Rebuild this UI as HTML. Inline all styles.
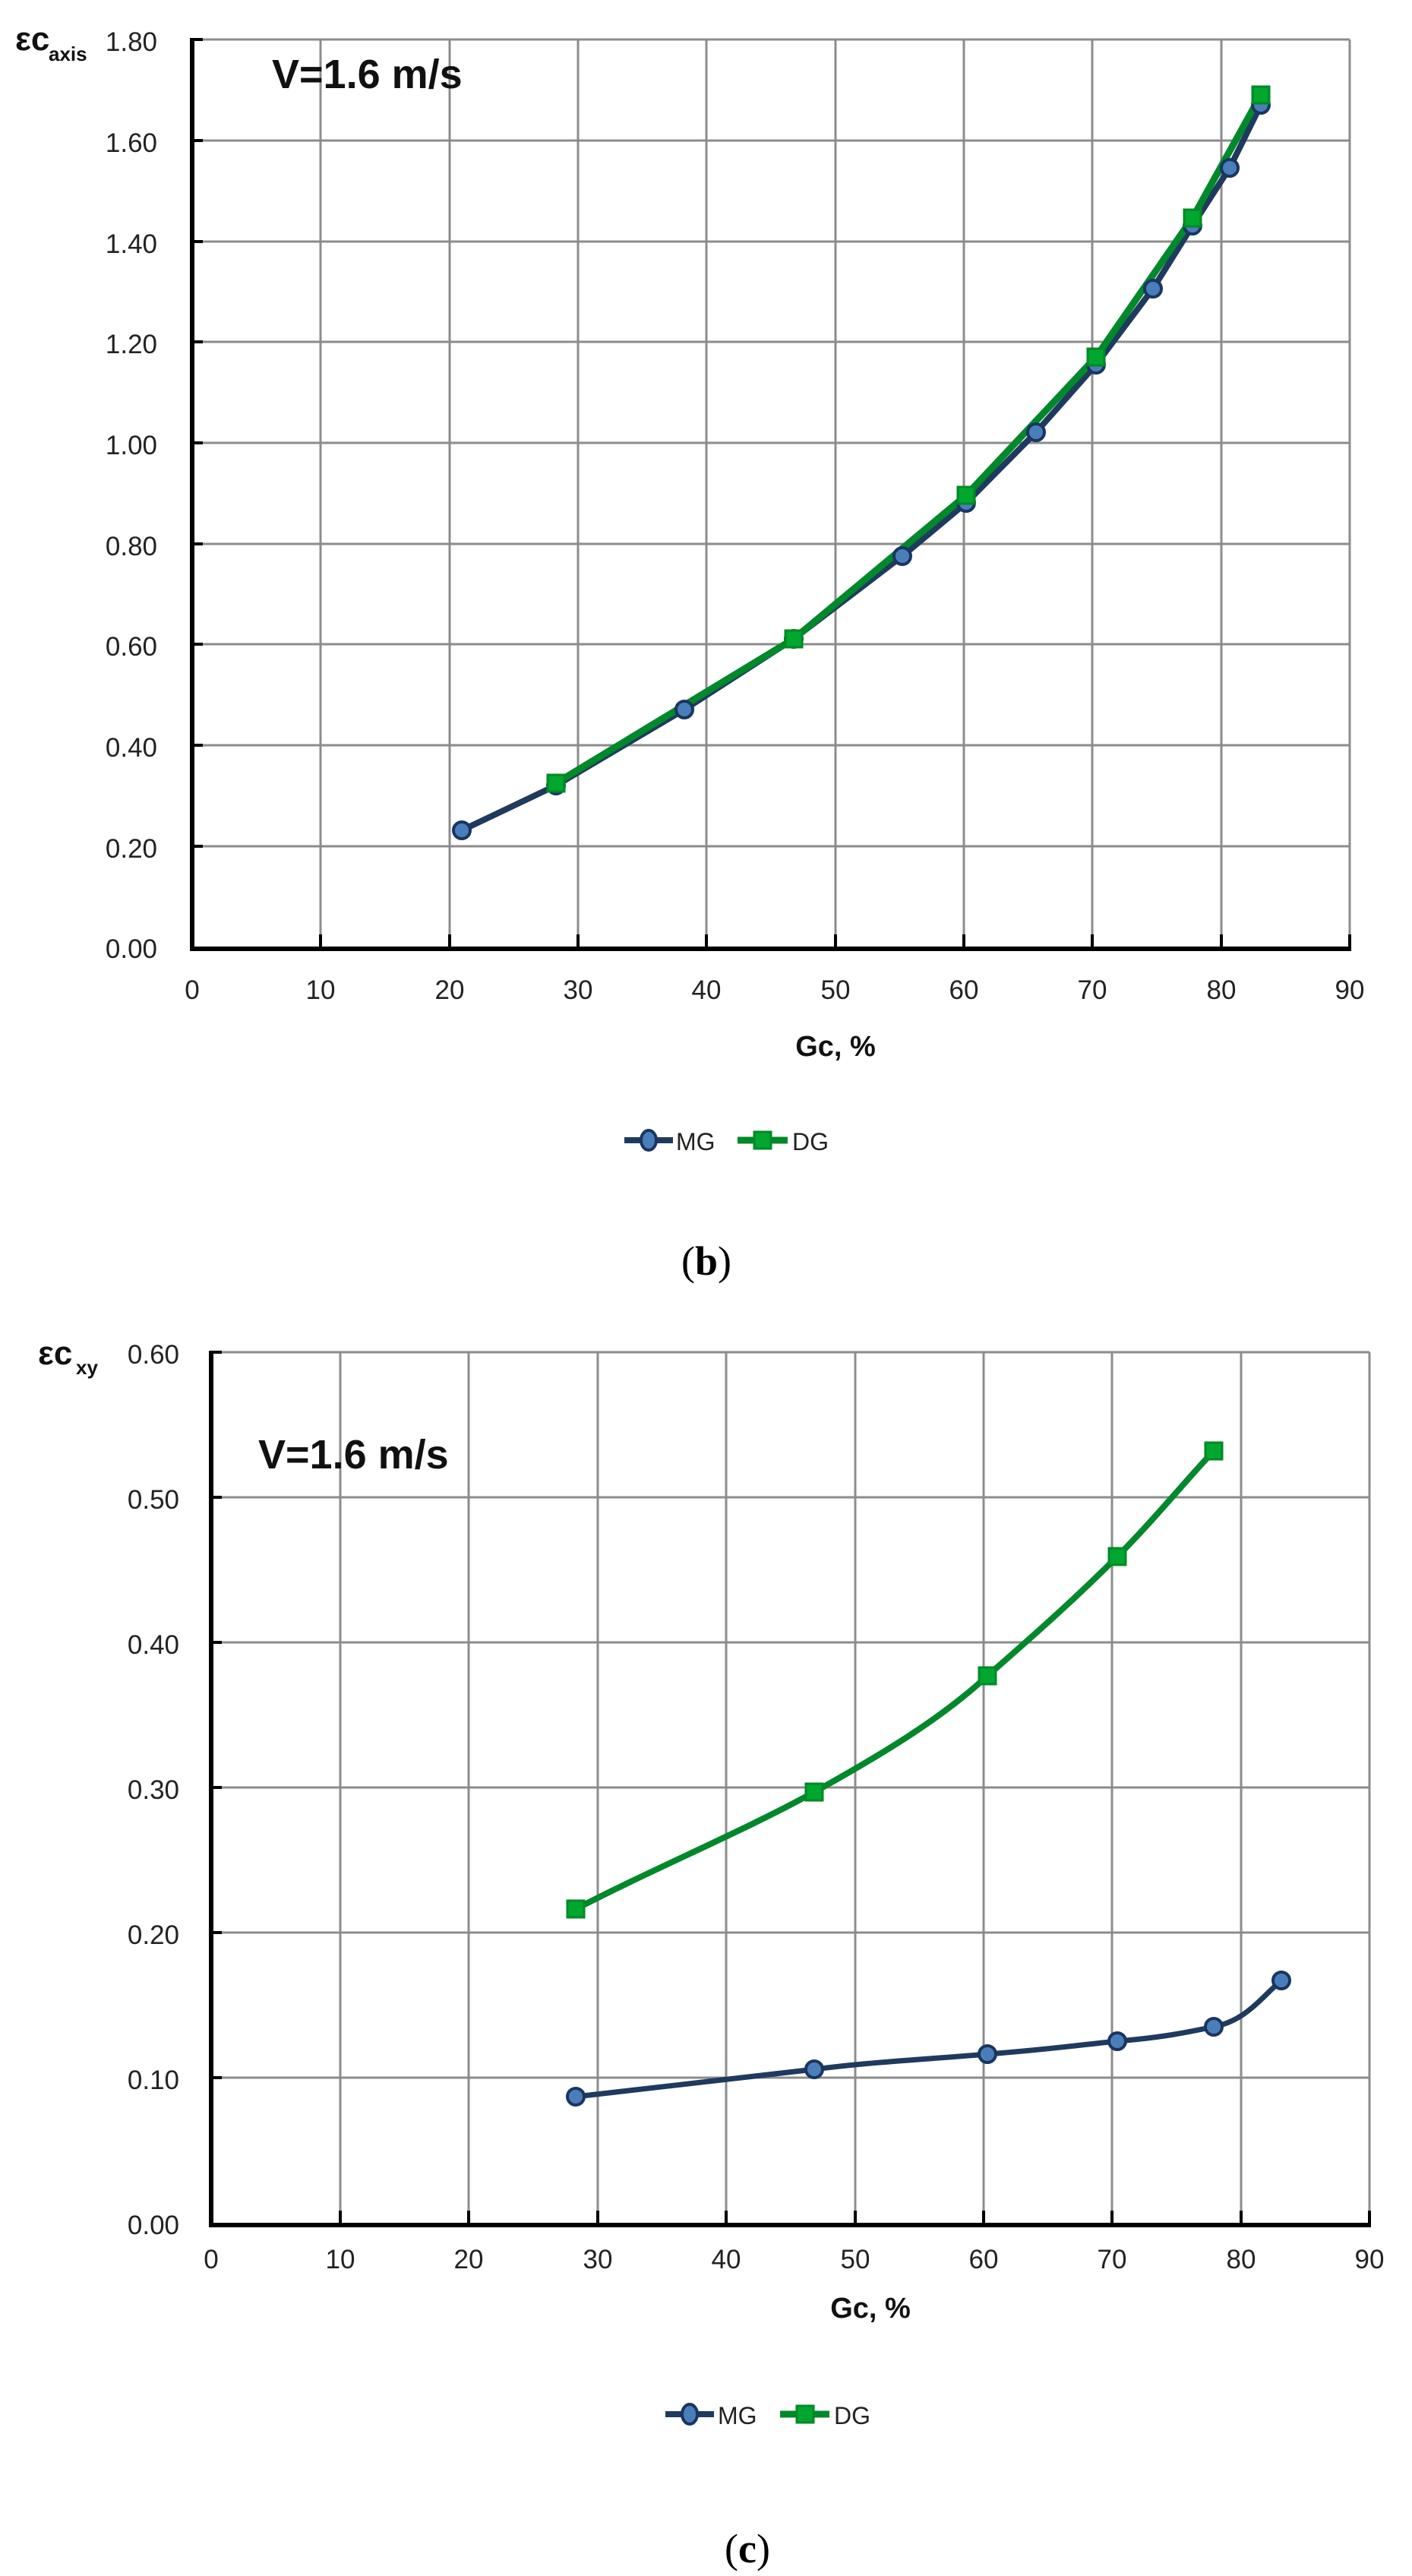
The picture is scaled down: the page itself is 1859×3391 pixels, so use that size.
<!DOCTYPE html>
<html><head><meta charset="utf-8"><style>
html,body{margin:0;padding:0;background:#fff;}
svg{display:block;}
</style></head><body>
<svg width="1859" height="3391" viewBox="0 0 1859 3391" xmlns="http://www.w3.org/2000/svg" font-family="Liberation Sans, DejaVu Sans, sans-serif">
<rect width="1859" height="3391" fill="#fff"/>
<g stroke="#8c8c8c" stroke-width="3" fill="none">
  <path d="M253 52H1777 M253 185H1777 M253 318H1777 M253 450H1777 M253 583H1777 M253 716H1777 M253 848H1777 M253 981H1777 M253 1114H1777"/>
  <path d="M422 52V1246 M592 52V1246 M761 52V1246 M930 52V1246 M1100 52V1246 M1269 52V1246 M1438 52V1246 M1608 52V1246 M1777 52V1246"/>
</g>
<g stroke="#000" stroke-width="4" fill="none">
  <path d="M253 52h14 M253 185h14 M253 318h14 M253 450h14 M253 583h14 M253 716h14 M253 848h14 M253 981h14 M253 1114h14"/>
  <path d="M422 1246v-16 M592 1246v-16 M761 1246v-16 M930 1246v-16 M1100 1246v-16 M1269 1246v-16 M1438 1246v-16 M1608 1246v-16 M1777 1246v-16"/>
</g>
<path d="M253 50V1249H1779" stroke="#000" stroke-width="6" fill="none"/>
<g font-size="35" fill="#222" text-anchor="end">
  <text x="207" y="67">1.80</text><text x="207" y="200">1.60</text><text x="207" y="333">1.40</text>
  <text x="207" y="465">1.20</text><text x="207" y="598">1.00</text><text x="207" y="731">0.80</text>
  <text x="207" y="863">0.60</text><text x="207" y="996">0.40</text><text x="207" y="1129">0.20</text>
  <text x="207" y="1261">0.00</text>
</g>
<g font-size="35" fill="#222" text-anchor="middle">
  <text x="253" y="1315">0</text><text x="422" y="1315">10</text><text x="592" y="1315">20</text><text x="761" y="1315">30</text>
  <text x="930" y="1315">40</text><text x="1100" y="1315">50</text><text x="1269" y="1315">60</text><text x="1438" y="1315">70</text>
  <text x="1608" y="1315">80</text><text x="1777" y="1315">90</text>
</g>
<text x="20" y="66" font-size="44" font-weight="bold" fill="#111">εc</text>
<text x="64" y="80" font-size="26" font-weight="bold" fill="#111">axis</text>
<text x="358" y="116" font-size="54" font-weight="bold" fill="#111">V=1.6 m/s</text>
<text x="1100" y="1390" font-size="38" font-weight="bold" fill="#111" text-anchor="middle">Gc, %</text>
<polyline points="608,1093 732,1034 901,934 1045,841 1188,732 1272,662 1364,569 1443,480 1518,380 1570,297 1619,221 1660,138" fill="none" stroke="#1f3a5f" stroke-width="8" stroke-linejoin="round"/>
<polyline points="732,1031 1045,841 1272,652 1443,470 1570,287 1660,125" fill="none" stroke="#00882a" stroke-width="9" stroke-linejoin="round"/>
<g fill="#4a7ebb" stroke="#1a3560" stroke-width="4">
  <circle cx="608" cy="1093" r="11"/><circle cx="732" cy="1034" r="11"/><circle cx="901" cy="934" r="11"/>
  <circle cx="1045" cy="841" r="11"/><circle cx="1188" cy="732" r="11"/><circle cx="1272" cy="662" r="11"/>
  <circle cx="1364" cy="569" r="11"/><circle cx="1443" cy="480" r="11"/><circle cx="1518" cy="380" r="11"/>
  <circle cx="1570" cy="297" r="11"/><circle cx="1619" cy="221" r="11"/><circle cx="1660" cy="138" r="11"/>
</g>
<g fill="#00a62e" stroke="#008a25" stroke-width="3">
  <rect x="721" y="1020" width="22" height="22"/><rect x="1034" y="830" width="22" height="22"/>
  <rect x="1261" y="641" width="22" height="22"/><rect x="1432" y="459" width="22" height="22"/>
  <rect x="1559" y="276" width="22" height="22"/><rect x="1649" y="114" width="22" height="22"/>
</g>
<line x1="822" y1="1501" x2="886" y2="1501" stroke="#1f3a5f" stroke-width="8"/>
<ellipse cx="854" cy="1501" rx="10" ry="13" fill="#4a7ebb" stroke="#1a3560" stroke-width="4"/>
<text x="890" y="1514" font-size="32" fill="#222">MG</text>
<line x1="971" y1="1501" x2="1037" y2="1501" stroke="#00882a" stroke-width="9"/>
<rect x="993" y="1490" width="22" height="22" fill="#00a62e" stroke="#008a25" stroke-width="3"/>
<text x="1043" y="1514" font-size="32" fill="#222">DG</text>
<text x="930" y="1678" font-size="54" font-family="Liberation Serif, serif" text-anchor="middle" fill="#000">(<tspan font-weight="bold">b</tspan>)</text>

<g stroke="#8c8c8c" stroke-width="3" fill="none">
  <path d="M278 1780H1803 M278 1971H1803 M278 2162H1803 M278 2353H1803 M278 2544H1803 M278 2735H1803"/>
  <path d="M448 1780V2926 M617 1780V2926 M787 1780V2926 M956 1780V2926 M1126 1780V2926 M1295 1780V2926 M1464 1780V2926 M1634 1780V2926 M1803 1780V2926"/>
</g>
<g stroke="#000" stroke-width="4" fill="none">
  <path d="M278 1780h14 M278 1971h14 M278 2162h14 M278 2353h14 M278 2544h14 M278 2735h14"/>
  <path d="M448 2926v-16 M617 2926v-16 M787 2926v-16 M956 2926v-16 M1126 2926v-16 M1295 2926v-16 M1464 2926v-16 M1634 2926v-16 M1803 2926v-16"/>
</g>
<path d="M278 1778V2929H1805" stroke="#000" stroke-width="6" fill="none"/>
<g font-size="35" fill="#222" text-anchor="end">
  <text x="236" y="1795">0.60</text><text x="236" y="1986">0.50</text><text x="236" y="2177">0.40</text>
  <text x="236" y="2368">0.30</text><text x="236" y="2559">0.20</text><text x="236" y="2750">0.10</text>
  <text x="236" y="2941">0.00</text>
</g>
<g font-size="35" fill="#222" text-anchor="middle">
  <text x="278" y="2986">0</text><text x="448" y="2986">10</text><text x="617" y="2986">20</text><text x="787" y="2986">30</text>
  <text x="956" y="2986">40</text><text x="1126" y="2986">50</text><text x="1295" y="2986">60</text><text x="1464" y="2986">70</text>
  <text x="1634" y="2986">80</text><text x="1803" y="2986">90</text>
</g>
<text x="50" y="1796" font-size="44" font-weight="bold" fill="#111">εc</text>
<text x="100" y="1809" font-size="26" font-weight="bold" fill="#111">xy</text>
<text x="340" y="1933" font-size="54" font-weight="bold" fill="#111">V=1.6 m/s</text>
<text x="1146" y="3051" font-size="38" font-weight="bold" fill="#111" text-anchor="middle">Gc, %</text>
<path d="M758 2760 L1072 2724 C1150 2714 1230 2710 1300 2704 C1380 2698 1420 2692 1471 2687 C1530 2682 1560 2676 1598 2668 C1640 2660 1660 2630 1687 2607" fill="none" stroke="#1f3a5f" stroke-width="7"/>
<path d="M758 2513 C860 2460 980 2410 1072 2359 C1160 2310 1240 2262 1300 2206 C1370 2145 1420 2100 1471 2049 C1520 2000 1560 1950 1598 1910" fill="none" stroke="#00882a" stroke-width="8"/>
<g fill="#4a7ebb" stroke="#1a3560" stroke-width="4">
  <circle cx="758" cy="2760" r="11"/><circle cx="1072" cy="2724" r="11"/><circle cx="1300" cy="2704" r="11"/>
  <circle cx="1471" cy="2687" r="11"/><circle cx="1598" cy="2668" r="11"/><circle cx="1687" cy="2607" r="11"/>
</g>
<g fill="#00a62e" stroke="#008a25" stroke-width="3">
  <rect x="747" y="2502" width="22" height="22"/><rect x="1061" y="2348" width="22" height="22"/>
  <rect x="1289" y="2195" width="22" height="22"/><rect x="1460" y="2038" width="22" height="22"/>
  <rect x="1587" y="1899" width="22" height="22"/>
</g>
<line x1="876" y1="3178" x2="940" y2="3178" stroke="#1f3a5f" stroke-width="8"/>
<ellipse cx="908" cy="3178" rx="10" ry="13" fill="#4a7ebb" stroke="#1a3560" stroke-width="4"/>
<text x="945" y="3191" font-size="32" fill="#222">MG</text>
<line x1="1027" y1="3178" x2="1092" y2="3178" stroke="#00882a" stroke-width="9"/>
<rect x="1049" y="3167" width="22" height="22" fill="#00a62e" stroke="#008a25" stroke-width="3"/>
<text x="1098" y="3191" font-size="32" fill="#222">DG</text>
<text x="984" y="3373" font-size="54" font-family="Liberation Serif, serif" text-anchor="middle" fill="#000">(<tspan font-weight="bold">c</tspan>)</text>
</svg>
</body></html>
